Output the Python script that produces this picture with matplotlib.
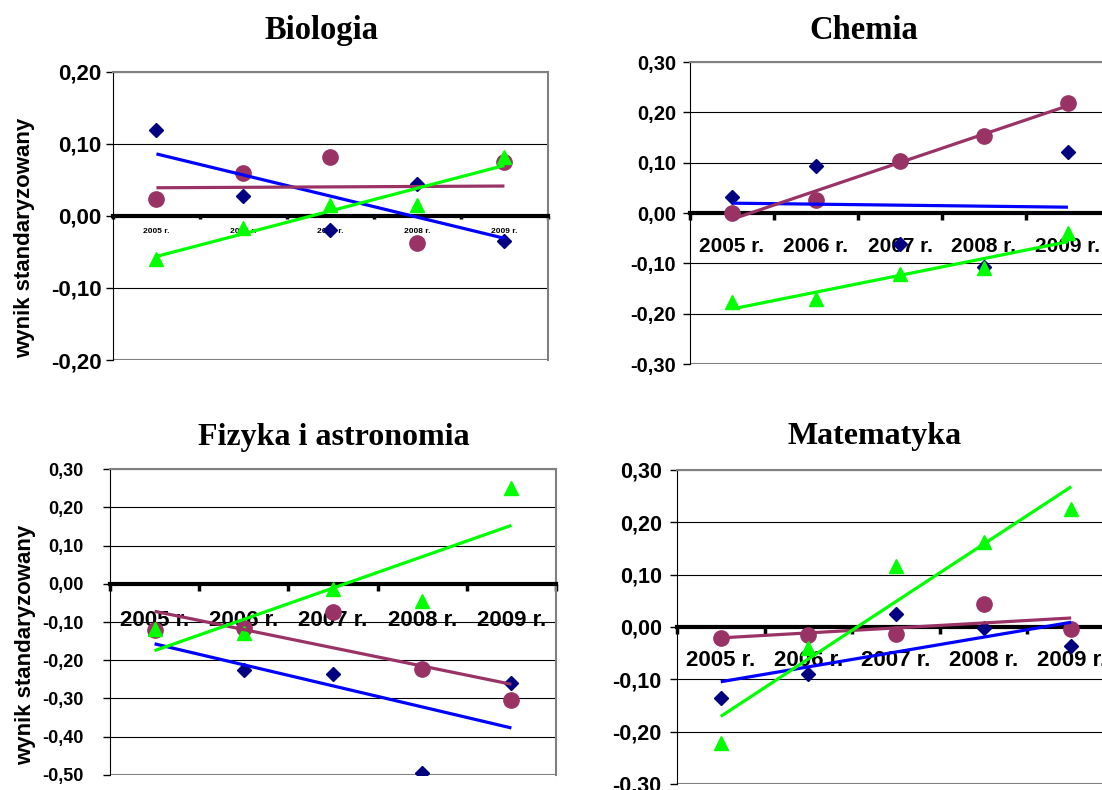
"""
Wyniki standaryzowane 2005-2009: Biologia, Chemia, Fizyka i astronomia, Matematyka
Punkty trzech serii + liniowe linie trendu
"""

import numpy as np
import matplotlib
matplotlib.use('Agg')
import matplotlib.pyplot as plt

plt.rcParams['font.family'] = ['Liberation Sans', 'DejaVu Sans']

YEARS = ['2005 r.', '2006 r.', '2007 r.', '2008 r.', '2009 r.']

# seria 1 (romby), seria 2 (kółka), seria 3 (trójkąty)
bio_diamond = [0.120, 0.028, -0.020, 0.045, -0.035]
bio_circle = [0.023, 0.060, 0.082, -0.038, 0.075]
bio_triangle = [-0.060, -0.017, 0.015, 0.015, 0.082]

chem_diamond = [0.032, 0.093, -0.062, -0.107, 0.122]
chem_circle = [0.000, 0.026, 0.104, 0.154, 0.218]
chem_triangle = [-0.177, -0.170, -0.122, -0.110, -0.040]

fiz_diamond = [-0.120, -0.225, -0.235, -0.495, -0.260]
fiz_circle = [-0.120, -0.115, -0.075, -0.222, -0.305]
fiz_triangle = [-0.118, -0.128, -0.015, -0.045, 0.250]

mat_diamond = [-0.135, -0.090, 0.025, -0.002, -0.037]
mat_circle = [-0.021, -0.015, -0.014, 0.044, -0.003]
mat_triangle = [-0.222, -0.040, 0.117, 0.163, 0.225]

C_DIAMOND = '#000080'
C_CIRCLE = '#993366'
C_TRIANGLE = '#00FF00'
C_TREND_DIAMOND = '#0000FF'

PANELS = [
    # title, data, axes rect, ylim, ytick font, ytick pad, xtick font, xpad, title pos, ylabel x
    ('Biologia', (bio_diamond, bio_circle, bio_triangle),
     [0.1025, 0.5443, 0.3947, 0.3646], (-0.2, 0.2), 16, 3, 6, 8.5, (0.2917, 0.9506), -0.179),
    ('Chemia', (chem_diamond, chem_circle, chem_triangle),
     [0.6261, 0.5392, 0.3811, 0.3823], (-0.3, 0.3), 14.5, 5, 15, 17, (0.7836, 0.9506), None),
    ('Fizyka i astronomia', (fiz_diamond, fiz_circle, fiz_triangle),
     [0.0998, 0.0190, 0.4047, 0.3873], (-0.5, 0.3), 13, 14, 16, 19, (0.3033, 0.4367), -0.166),
    ('Matematyka', (mat_diamond, mat_circle, mat_triangle),
     [0.6143, 0.0076, 0.3975, 0.3975], (-0.3, 0.3), 15.5, 6, 16, 16.5, (0.794, 0.4380), None),
]


def fmt(v):
    if abs(v) < 1e-9:
        v = 0.0
    return f'{v:.2f}'.replace('.', ',')


def draw_panel(fig, title, data, rect, ylim, yfs, ypad, xfs, xpad, tpos, ylab_x):
    ax = fig.add_axes(rect)
    x = np.arange(1, len(YEARS) + 1)
    diamond, circle, triangle = data

    ax.plot(x, diamond, 'D', color=C_DIAMOND, markersize=7, zorder=3)
    ax.plot(x, circle, 'o', color=C_CIRCLE, markersize=11, zorder=3)
    ax.plot(x, triangle, '^', color=C_TRIANGLE, markersize=10, zorder=3)

    # linie trendu
    for vals, col in [(diamond, C_TREND_DIAMOND), (circle, C_CIRCLE), (triangle, C_TRIANGLE)]:
        k, b = np.polyfit(x, vals, 1)
        ax.plot(x, k * x + b, color=col, linewidth=2.3, zorder=4, solid_capstyle='butt')

    ax.set_xlim(0.5, len(YEARS) + 0.5)
    ax.set_ylim(*ylim)
    yt = np.round(np.arange(ylim[0], ylim[1] + 0.001, 0.1), 2)
    ax.set_yticks(yt)
    ax.set_yticklabels([fmt(v) for v in yt], fontsize=yfs, fontweight='bold')
    ax.tick_params(axis='y', direction='out', length=5, width=1, colors='black', pad=ypad)
    ax.grid(axis='y', color='black', linewidth=0.8)
    ax.set_axisbelow(True)

    # oś X w zerze
    ax.spines['bottom'].set_position(('data', 0))
    ax.spines['bottom'].set_linewidth(3)
    ax.spines['bottom'].set_zorder(2.5)
    ax.set_xticks(np.arange(0.5, len(YEARS) + 1, 1.0))
    ax.set_xticklabels([])
    ax.tick_params(axis='x', which='major', direction='out', length=5 if xfs > 8 else 2.5,
                   width=2.5, colors='black')
    ax.set_xticks(x, minor=True)
    ax.set_xticklabels(YEARS, minor=True, fontsize=xfs, fontweight='bold')
    ax.tick_params(axis='x', which='minor', length=0, pad=xpad)

    ax.spines['left'].set_color('black')
    for s in ['top', 'right']:
        ax.spines[s].set_color('#808080')
        ax.spines[s].set_linewidth(1.5)
    ax.axhline(ylim[0], color='#808080', linewidth=1.5, zorder=1)

    fig.text(tpos[0], tpos[1], title, family='Liberation Serif', fontweight='bold',
             fontsize=23.5 if len(title) < 9 else 23, ha='center', va='baseline')
    if ylab_x is not None:
        ax.set_ylabel('wynik standaryzowany', fontsize=16, fontweight='bold')
        ax.yaxis.set_label_coords(ylab_x, 0.425)
    return ax


fig = plt.figure(figsize=(11.02, 7.90), dpi=100)
for p in PANELS:
    draw_panel(fig, *p)

fig.savefig('out.png', dpi=100)
